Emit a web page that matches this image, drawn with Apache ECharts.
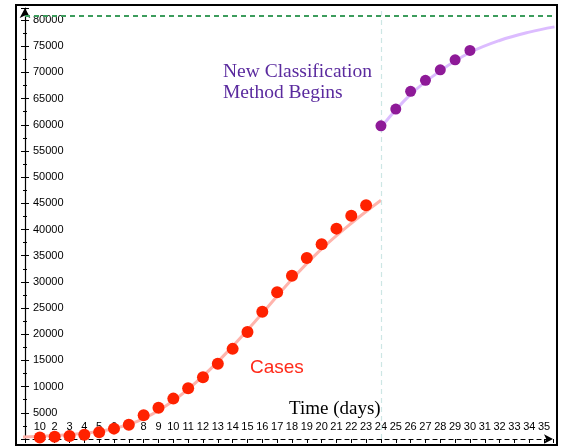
<!DOCTYPE html>
<html>
<head>
<meta charset="utf-8">
<script src="https://cdn.jsdelivr.net/npm/echarts@6/dist/echarts.min.js"></script>
<style>
  html, body { margin: 0; padding: 0; background: #fff; }
  #chart { width: 562px; height: 447px; }
</style>
</head>
<body>
<div id="chart"></div>
<script>
// reported cases, days 1..23
var caseDays = [1,2,3,4,5,6,7,8,9,10,11,12,13,14,15,16,17,18,19,20,21,22,23];
var caseValues = [290,440,570,830,1290,1980,2740,4520,5970,7710,9690,11790,14380,17210,20440,24320,28020,31160,34550,37200,40170,42640,44650];

// after the new classification method, days 24..30
var newDays = [24,25,26,27,28,29,30];
var newValues = [59800,63000,66400,68500,70500,72400,74200];

// fitted curves
var caseFitDays = [-0.5,0,2,4,6,8,10,12,14,16,18,20,22,24];
var caseFitValues = [350,400,650,1100,2000,3900,7300,12000,17700,24000,30500,36300,41200,45600];
var newFitDays = [24,26,28,30,32,34,35.7];
var newFitValues = [59500,65800,70300,73800,76100,77700,78700];

// x tick labels (index = day)
var xTickLabels = ['', '10', '2', '3', '4', '5', '6', '7', '8', '9', '10', '11', '12', '13', '14', '15', '16', '17',
  '18', '19', '20', '21', '22', '23', '24', '25', '26', '27', '28', '29', '30', '31', '32', '33', '34', '35'];

var capLevel = 80900;
var changeDay = 24;

function pairs(xs, ys) {
  return xs.map(function (x, i) { return [x, ys[i]]; });
}

var chart = echarts.init(document.getElementById('chart'));
var option = {
  animation: false,
  grid: { left: 25, right: 9, top: 8, bottom: 8 },
  xAxis: {
    type: 'value',
    min: 0,
    max: 35.6,
    interval: 1,
    axisLine: {
      lineStyle: { color: '#000', type: [4, 4], width: 1.2 },
      symbol: ['none', 'arrow'],
      symbolSize: [7, 9]
    },
    axisTick: { show: true, length: 4, lineStyle: { color: '#000' } },
    axisLabel: {
      inside: true,
      margin: 7,
      color: '#000',
      fontSize: 11,
      fontFamily: 'Liberation Sans',
      formatter: function (v) {
        var i = Math.round(v);
        return Math.abs(v - i) < 1e-6 && xTickLabels[i] ? xTickLabels[i] : '';
      }
    },
    splitLine: { show: false }
  },
  yAxis: [
    {
      type: 'value',
      min: 0,
      max: 82300,
      interval: 5000,
      axisLine: {
        show: true,
        lineStyle: { color: '#000', width: 1.2 },
        symbol: ['none', 'arrow'],
        symbolSize: [8, 10]
      },
      axisTick: { show: true, inside: true, length: 4, lineStyle: { color: '#000' } },
      minorTick: { show: true, splitNumber: 2, length: 2, lineStyle: { color: '#000' } },
      axisLabel: {
        inside: true,
        margin: 8,
        color: '#000',
        fontSize: 11,
        fontFamily: 'Liberation Sans',
        formatter: function (v) { return v > 0 && v % 5000 === 0 ? String(v) : ''; }
      },
      splitLine: { show: false }
    },
    {
      type: 'value',
      position: 'left',
      min: 0,
      max: 82300,
      interval: 5000,
      axisLine: { show: false },
      axisTick: { show: true, length: 4, lineStyle: { color: '#000' } },
      minorTick: { show: true, splitNumber: 2, length: 2, lineStyle: { color: '#000' } },
      axisLabel: { show: false },
      splitLine: { show: false }
    }
  ],
  series: [
    {
      type: 'line',
      smooth: 0.4,
      showSymbol: false,
      silent: true,
      data: pairs(caseFitDays, caseFitValues),
      lineStyle: { color: '#ffb4ac', width: 3 },
      markLine: {
        silent: true,
        symbol: 'none',
        label: { show: false },
        data: [
          { xAxis: changeDay, lineStyle: { color: '#cde6e4', type: [5, 4], width: 1.2 } },
          { yAxis: capLevel, lineStyle: { color: '#3c9c5c', type: [5, 4], width: 2 } }
        ]
      }
    },
    {
      type: 'line',
      smooth: 0.4,
      showSymbol: false,
      silent: true,
      data: pairs(newFitDays, newFitValues),
      lineStyle: { color: '#dcbcff', width: 3 }
    },
    {
      type: 'scatter',
      symbolSize: 12,
      data: pairs(caseDays, caseValues),
      itemStyle: { color: '#ff2200', opacity: 1 },
      z: 5
    },
    {
      type: 'scatter',
      symbolSize: 11,
      data: pairs(newDays, newValues),
      itemStyle: { color: '#8e1a98', opacity: 1 },
      z: 5
    }
  ],
  graphic: [
    {
      type: 'rect',
      shape: { x: 16, y: 5, width: 541, height: 440 },
      style: { fill: 'none', stroke: '#000', lineWidth: 2 },
      silent: true
    },
    {
      type: 'text',
      left: 223,
      top: 61,
      style: {
        text: 'New Classification\nMethod Begins',
        font: '19.5px "Liberation Serif"',
        lineHeight: 21,
        fill: '#5a2a9e'
      }
    },
    {
      type: 'text',
      left: 250,
      top: 358,
      style: { text: 'Cases', font: '19px "Liberation Sans"', fill: '#ff2a1a' }
    },
    {
      type: 'text',
      left: 289,
      top: 400,
      style: { text: 'Time (days)', font: '19px "Liberation Serif"', fill: '#000' }
    }
  ]
};
chart.setOption(option);
</script>
</body>
</html>
